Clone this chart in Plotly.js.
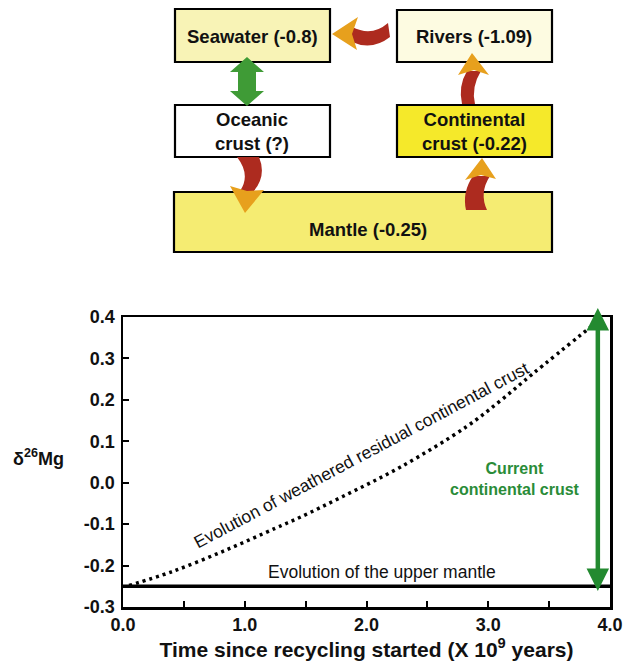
<!DOCTYPE html>
<html>
<head>
<meta charset="utf-8">
<script src="https://cdn.plot.ly/plotly-3.0.1.min.js"></script>
<style>html,body{margin:0;padding:0;background:#fff;}#chart{width:625px;height:670px;}</style>
</head>
<body>
<div id="chart"></div>
<script>
// ---- data ----
var crustTime = [0.05, 0.4, 0.85, 1.25, 1.45, 1.8, 2.28, 2.82, 3.1, 3.37, 3.88];
var crustD26Mg = [-0.248, -0.215, -0.162, -0.11, -0.084, -0.034, 0.038, 0.135, 0.198, 0.264, 0.385];
var mantleTime = [0, 4.0];
var mantleD26Mg = [-0.25, -0.25];
var currentCrustTime = 3.9;
var currentCrustRange = [-0.265, 0.422];
var xTickVals = [0, 1, 2, 3, 4];
var xTickText = ['0.0', '1.0', '2.0', '3.0', '4.0'];
var yTickVals = [-0.3, -0.2, -0.1, 0.0, 0.1, 0.2, 0.3, 0.4];
var yTickText = ['-0.3', '-0.2', '-0.1', '0.0', '0.1', '0.2', '0.3', '0.4'];
var boxLabels = ['Seawater (-0.8)', 'Rivers (-1.09)', 'Oceanic<br>crust (?)', 'Continental<br>crust (-0.22)', 'Mantle (-0.25)'];

// ---- layout geometry (pixels) ----
var W = 625, H = 670;
var M = {l: 123, r: 15, t: 317, b: 63};
var PW = W - M.l - M.r, PH = H - M.t - M.b;
function px(x) { return (x - M.l) / PW; }
function py(y) { return (M.t + PH - y) / PH; }
function path(cmds) {
  var s = '';
  cmds.forEach(function (c) {
    s += c[0];
    for (var i = 1; i < c.length; i += 2) {
      s += (i > 1 ? ' ' : '') + px(c[i]).toFixed(5) + ',' + py(c[i + 1]).toFixed(5);
    }
    s += ' ';
  });
  return s.trim();
}
function rect(x0, y0, x1, y1, fill) {
  return {type: 'rect', xref: 'paper', yref: 'paper', x0: px(x0), x1: px(x1), y0: py(y1), y1: py(y0),
    fillcolor: fill, line: {color: '#000', width: 2.2}, layer: 'above'};
}
function poly(cmds, fill) {
  return {type: 'path', xref: 'paper', yref: 'paper', path: path(cmds), fillcolor: fill,
    line: {width: 0}, layer: 'above'};
}
var RED = '#ad2b1f', ORANGE = '#e7a01d', GREEN = '#3f9b36';
var FAM = 'Liberation Sans, Arial, Helvetica, sans-serif';

var boxes = [
  {x0: 175, y0: 9, x1: 330, y1: 62, fill: '#f8f3b6'},
  {x0: 397, y0: 10, x1: 552, y1: 62, fill: '#fdfbe1'},
  {x0: 175, y0: 105, x1: 330, y1: 157, fill: '#ffffff'},
  {x0: 397, y0: 105, x1: 552, y1: 157, fill: '#f5e92a'},
  {x0: 174, y0: 192, x1: 552, y1: 252, fill: '#f5ec72'}
];
var shapes = boxes.map(function (b) { return rect(b.x0, b.y0, b.x1, b.y1, b.fill); });

// curved arrows (diagram)
shapes.push(poly([['M', 388, 23], ['Q', 372, 37, 352, 27], ['L', 352, 42], ['Q', 372, 51, 390, 37], ['Z']], RED));
shapes.push(poly([['M', 332, 34], ['L', 358, 17], ['L', 352, 34], ['L', 357, 50], ['Z']], ORANGE));

shapes.push(poly([['M', 462, 104], ['Q', 458, 86, 467, 71], ['L', 481, 71], ['Q', 471, 87, 475, 104], ['Z']], RED));
shapes.push(poly([['M', 472, 53], ['L', 489, 75], ['L', 474, 70], ['L', 458, 75], ['Z']], ORANGE));

shapes.push(poly([['M', 466, 210], ['Q', 462, 192, 473, 176], ['L', 490, 176], ['Q', 479, 193, 487, 210], ['Z']], RED));
shapes.push(poly([['M', 482, 158], ['L', 496, 179], ['L', 481, 175], ['L', 465, 180], ['Z']], ORANGE));

shapes.push(poly([['M', 237, 157], ['L', 259, 157], ['Q', 267, 176, 253, 192], ['L', 240, 191], ['Q', 251, 175, 237, 157], ['Z']], RED));
shapes.push(poly([['M', 230, 186], ['L', 247, 191], ['L', 264, 190], ['L', 245, 213], ['Z']], ORANGE));

// green double arrow
shapes.push(poly([['M', 247, 57], ['L', 264, 72], ['L', 256, 72], ['L', 256, 91], ['L', 264, 91], ['L', 247, 106],
  ['L', 230, 91], ['L', 238, 91], ['L', 238, 72], ['L', 230, 72], ['Z']], GREEN));

var boxFont = {family: FAM, size: 18.5, color: '#111', weight: 'bold'};
var boxText = [
  {x: 252, y: 36}, {x: 474, y: 36}, {x: 252, y: 131}, {x: 474, y: 131}, {x: 368, y: 229}
];
var annotations = boxText.map(function (p, i) {
  return {xref: 'paper', yref: 'paper', x: px(p.x), y: py(p.y), text: boxLabels[i], showarrow: false,
    font: boxFont, xanchor: 'center', yanchor: 'middle', align: 'center'};
});

annotations.push({xref: 'paper', yref: 'paper', x: px(66), y: py(457), text: 'δ<sup>26</sup>Mg', showarrow: false,
  font: {family: FAM, size: 18, color: '#111', weight: 'bold'},
  xanchor: 'right', yanchor: 'middle'});
annotations.push({xref: 'x', yref: 'y', x: 1.96, y: 0.067, text: 'Evolution of weathered residual continental crust',
  showarrow: false, textangle: -28, font: {family: FAM, size: 17.5, color: '#111'},
  xanchor: 'center', yanchor: 'middle'});
annotations.push({xref: 'x', yref: 'y', x: 2.13, y: -0.215, text: 'Evolution of the upper mantle',
  showarrow: false, font: {family: FAM, size: 17.5, color: '#111'},
  xanchor: 'center', yanchor: 'middle'});
annotations.push({xref: 'x', yref: 'y', x: 3.22, y: 0.009, text: 'Current<br>continental crust',
  showarrow: false, font: {family: FAM, size: 16, color: '#2a8c38', weight: 'bold'},
  xanchor: 'center', yanchor: 'middle', align: 'center'});
annotations.push({xref: 'x', yref: 'y', axref: 'x', ayref: 'y',
  x: currentCrustTime, y: currentCrustRange[1], ax: currentCrustTime, ay: currentCrustRange[0],
  text: '', showarrow: true, arrowside: 'end+start', arrowhead: 2, arrowsize: 1, arrowwidth: 4.5,
  arrowcolor: '#238a30', standoff: 0, startstandoff: 0});

var traces = [
  {x: mantleTime, y: mantleD26Mg, mode: 'lines', line: {color: '#000', width: 3.5}, cliponaxis: false, hoverinfo: 'skip'},
  {x: crustTime, y: crustD26Mg, mode: 'lines', line: {color: '#000', width: 3.5, dash: '3px,4px', shape: 'spline', smoothing: 1},
    hoverinfo: 'skip'}
];

var axFont = {family: FAM, size: 18, color: '#111', weight: 'bold'};
var layout = {
  width: W, height: H, margin: M, showlegend: false,
  paper_bgcolor: '#fff', plot_bgcolor: '#fff',
  xaxis: {range: [0, 4], tickvals: xTickVals, ticktext: xTickText, ticks: 'inside', ticklen: 6, tickwidth: 2,
    tickcolor: '#000', showline: true, mirror: true, linecolor: '#000', linewidth: 2.5, showgrid: false,
    zeroline: false, tickfont: axFont,
    minor: {tickvals: [0.5, 1.5, 2.5, 3.5], ticks: 'inside', ticklen: 6, tickwidth: 2, tickcolor: '#000', showgrid: false},
    title: {text: 'Time since recycling started (X 10<sup>9</sup> years)', standoff: 8,
      font: {family: FAM, size: 21, color: '#111', weight: 'bold'}}},
  yaxis: {range: [-0.3, 0.4], tickvals: yTickVals, ticktext: yTickText, ticks: 'inside', ticklen: 6, tickwidth: 2,
    tickcolor: '#000', showline: true, mirror: true, linecolor: '#000', linewidth: 2.5, showgrid: false,
    zeroline: false, tickfont: axFont, ticklabelstandoff: 2},
  shapes: shapes,
  annotations: annotations
};
Plotly.newPlot('chart', traces, layout, {staticPlot: true});
</script>
</body>
</html>
